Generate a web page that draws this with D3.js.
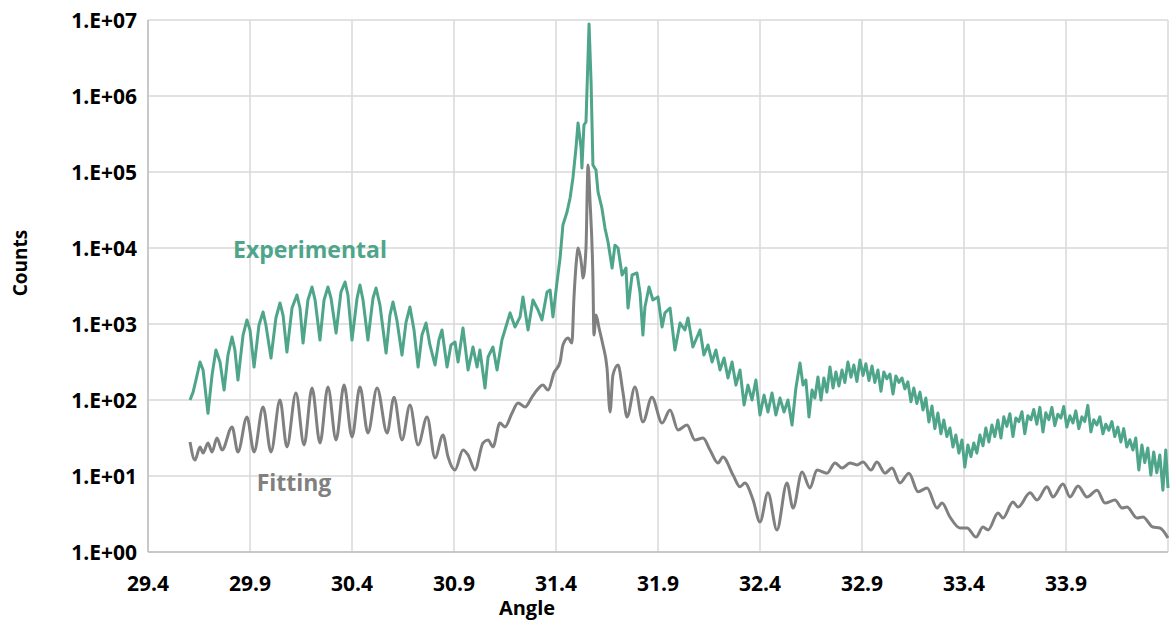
<!DOCTYPE html>
<html>
<head>
<meta charset="utf-8">
<script src="https://cdn.jsdelivr.net/npm/d3@7"></script>
<style>
body { margin: 0; background: white; }
</style>
</head>
<body>
<script>
const width = 1173
const height = 621
const margin = {top: 20, left: 148, bottom: 69, right: 5}

const xTicks = [29.4, 29.9, 30.4, 30.9, 31.4, 31.9, 32.4, 32.9, 33.4, 33.9]
const xGrid = [29.4, 29.9, 30.4, 30.9, 31.4, 31.9, 32.4, 32.9, 33.4, 33.9, 34.4]
const yTicks = [1, 10, 100, 1e3, 1e4, 1e5, 1e6, 1e7]
const yTickLabels = ["1.E+00", "1.E+01", "1.E+02", "1.E+03", "1.E+04", "1.E+05", "1.E+06", "1.E+07"]

// [angle, counts]
const experimental = [
    [29.606,100],[29.621,127],[29.635,183],[29.655,316],[29.670,248],[29.694,67],[29.714,213],[29.733,455],[29.753,316],[29.773,135],
    [29.792,391],[29.812,675],[29.826,455],[29.841,183],[29.866,716],[29.885,1130],[29.900,834],[29.920,272],[29.944,970],[29.964,1440],
    [29.978,970],[30.003,357],[30.027,1200],[30.047,1890],[30.062,1310],[30.081,428],[30.106,1625],[30.130,2410],[30.145,1625],[30.160,562],
    [30.184,2070],[30.204,3070],[30.219,2070],[30.243,615],[30.263,2070],[30.282,3070],[30.297,2200],[30.322,762],[30.346,2640],[30.366,3570],
    [30.380,2410],[30.400,615],[30.425,2200],[30.439,3260],[30.454,2070],[30.478,615],[30.503,2200],[30.518,2980],[30.537,1780],[30.567,415],
    [30.586,1310],[30.601,1950],[30.620,1130],[30.645,391],[30.665,1060],[30.684,1675],[30.704,834],[30.724,272],[30.743,716],[30.763,1030],
    [30.782,530],[30.807,289],[30.826,615],[30.841,834],[30.866,272],[30.885,530],[30.905,580],[30.920,316],[30.944,886],[30.969,248],
    [30.993,498],[31.013,272],[31.027,455],[31.052,144],[31.067,368],[31.091,498],[31.111,248],[31.135,615],[31.160,1030],[31.175,1400],
    [31.199,914],[31.224,1240],[31.238,2270],[31.263,834],[31.287,2070],[31.312,1530],[31.331,1130],[31.356,2640],[31.371,2800],[31.385,1240],
    [31.405,3570],[31.420,7380],[31.434,20100],[31.454,29800],[31.469,45500],[31.483,83400],[31.498,207000],[31.508,442000],[31.523,207000],[31.527,113000],
    [31.537,415000],[31.547,455000],[31.562,8850000],[31.572,1530000],[31.581,124000],[31.596,106000],[31.606,54600],[31.625,33600],[31.640,18300],[31.655,12000],
    [31.675,5460],[31.689,10900],[31.704,10000],[31.724,4420],[31.743,5460],[31.753,1625],[31.773,4420],[31.797,4690],[31.812,2560],[31.826,716],
    [31.836,1675],[31.856,3070],[31.875,2070],[31.900,2270],[31.920,914],[31.934,1400],[31.959,1625],[31.983,455],[32.008,1030],[32.032,834],
    [32.047,1200],[32.071,498],[32.106,834],[32.125,391],[32.145,530],[32.165,316],[32.184,455],[32.204,248],[32.224,357],[32.243,195],
    [32.263,316],[32.282,157],[32.302,248],[32.322,86],[32.341,157],[32.361,100],[32.380,183],[32.400,63.5],[32.420,116],[32.439,69.5],
    [32.459,124],[32.478,63.5],[32.498,106],[32.518,69.5],[32.537,100],[32.557,46.9],[32.576,144],
    [32.596,307],[32.611,157],[32.625,183],[32.640,59.8],[32.655,135],[32.669,106],[32.684,201],[32.699,100],[32.713,195],[32.728,127],
    [32.743,272],[32.758,144],[32.772,234],[32.787,153],[32.802,248],[32.816,170],[32.831,316],[32.846,200],[32.860,289],[32.875,175],
    [32.890,336],[32.905,210],[32.919,300],[32.934,180],[32.949,280],[32.963,170],[32.978,248],[32.993,130],[33.007,234],[33.022,190],
    [33.037,220],[33.052,120],[33.066,207],[33.081,170],[33.096,195],[33.110,140],[33.125,173],[33.140,95],[33.154,144],[33.169,90],
    [33.184,127],[33.199,73.9],[33.213,106],[33.228,51.4],[33.243,83.4],[33.257,42],[33.272,67.5],[33.287,36],[33.301,54.6],[33.316,33],
    [33.331,42.8],[33.346,24.1],[33.360,34.6],[33.375,20],[33.390,29.8],[33.404,13.1],[33.419,25.6],[33.434,18],[33.448,27.2],[33.463,20],
    [33.478,34.6],[33.493,25],[33.507,42.8],[33.522,28],[33.537,46.9],[33.551,33],[33.566,54.6],[33.581,31.6],[33.595,60],[33.610,45],
    [33.625,66],[33.640,33],[33.654,58],[33.669,52],[33.684,70],[33.698,36],[33.713,62],[33.728,55],[33.742,75],[33.757,48],
    [33.772,80],[33.787,38],[33.801,68],[33.816,55],[33.831,80],[33.845,46],[33.860,65],[33.875,58],[33.889,82],[33.904,44],
    [33.919,62],[33.934,50],[33.948,72],[33.963,42],[33.978,60],[33.992,52],[34.007,85],[34.022,38],[34.036,55],[34.051,47],
    [34.066,60],[34.081,36],[34.095,48],[34.110,40],[34.125,52],[34.139,33],[34.154,44],[34.169,28],[34.183,42],[34.198,24],
    [34.213,30],[34.228,22],[34.242,31.6],[34.257,12],[34.272,25.6],[34.286,15],[34.301,23.4],[34.316,10.3],[34.330,20.7],[34.345,11],
    [34.360,18.9],[34.375,6.5],[34.389,22],[34.400,6.95]
]

const fitting = [
    [29.606,28],[29.630,16.2],[29.655,24.1],[29.670,20.1],[29.694,27.2],[29.714,20.7],[29.738,31.6],[29.763,22],[29.812,44.2],[29.841,20.7],
    [29.885,59.8],[29.920,20.7],[29.964,80.9],[30.003,20.7],[30.047,100],[30.081,24.1],[30.125,124],[30.165,25.6],[30.204,144],[30.243,27.2],
    [30.282,148],[30.322,29.8],[30.361,157],[30.400,32.6],[30.439,148],[30.478,36.8],[30.523,144],[30.572,36.8],[30.606,109],[30.645,29.8],
    [30.684,86],[30.724,25.6],[30.768,59.8],[30.807,17.3],[30.846,34.6],[30.871,17.8],[30.905,12],[30.944,22],[30.969,18.9],[31.003,12],
    [31.042,27.2],[31.067,29.8],[31.091,24.1],[31.125,49.8],[31.150,44.2],[31.184,67],[31.214,91.4],[31.248,80.9],[31.282,109],[31.307,135],
    [31.336,157],[31.361,135],[31.390,227],[31.420,316],[31.434,530],[31.459,655],[31.478,562],[31.488,2200],[31.503,8090],[31.508,10000],
    [31.527,5460],[31.532,4030],[31.547,10000],[31.557,124000],[31.567,40300],[31.581,4030],[31.586,716],[31.596,1310],[31.611,886],[31.630,530],
    [31.650,264],[31.665,69.5],[31.679,213],[31.704,289],[31.728,127],[31.748,59.8],[31.787,148],[31.826,51.4],[31.870,109],[31.920,49.8],
    [31.959,73.9],[31.998,40.3],[32.042,46.9],[32.081,29.8],[32.121,31.6],[32.155,22],[32.194,14.8],[32.218,17.8],[32.268,10.3],[32.302,7.2],
    [32.326,8.1],[32.366,4.83],[32.400,2.48],[32.439,6],[32.483,1.95],[32.532,8.1],[32.562,3.79],[32.606,11.3],[32.645,6.95],[32.679,12],
    [32.728,10.9],[32.768,14.8],[32.802,12.7],[32.841,14.8],[32.875,14],[32.905,15.3],[32.944,12],[32.973,15.3],[33.013,10.9],[33.047,12.7],
    [33.086,8.1],[33.130,10.9],[33.175,6.2],[33.219,6.95],[33.268,3.79],[33.292,4.41],[33.331,2.89],[33.380,2.07],[33.415,2.07],[33.459,1.57],
    [33.493,2.13],[33.518,1.95],[33.567,3.26],[33.591,2.8],[33.640,4.55],[33.665,3.91],[33.724,6],[33.758,4.83],[33.807,7.2],[33.836,5.3],
    [33.885,7.85],[33.920,5.3],[33.959,7.4],[34.003,5.3],[34.052,6.5],[34.091,4.41],[34.140,4.83],[34.175,3.79],[34.199,3.91],[34.248,2.8],
    [34.277,2.89],[34.326,2.13],[34.360,2.07],[34.400,1.53]
]

const expColor = "#4ea58a"
const fitColor = "#808080"

const svg = d3.select("body").append("svg")
    .attr("width", width)
    .attr("height", height)
    .style("font-family", "'Open Sans', sans-serif")

const x = d3.scaleLinear()
    .domain([29.4, 34.4])
    .range([margin.left, width - margin.right])
const y = d3.scaleLog()
    .domain([1, 1e7])
    .range([height - margin.bottom, margin.top])

// gridlines
svg.selectAll(".vgrid")
    .data(xGrid)
    .enter()
    .append("line")
    .attr("class", "vgrid")
    .attr("x1", d => x(d))
    .attr("x2", d => x(d))
    .attr("y1", y(1e7))
    .attr("y2", y(1))
    .attr("stroke", "#d9d9d9")
    .attr("stroke-width", 1.5)
svg.selectAll(".hgrid")
    .data(yTicks)
    .enter()
    .append("line")
    .attr("class", "hgrid")
    .attr("x1", x(29.4))
    .attr("x2", x(34.4))
    .attr("y1", d => y(d))
    .attr("y2", d => y(d))
    .attr("stroke", "#d9d9d9")
    .attr("stroke-width", 1.5)

// axis lines
svg.append("line")
    .attr("x1", x(29.4)).attr("x2", x(34.4))
    .attr("y1", y(1)).attr("y2", y(1))
    .attr("stroke", "#bfbfbf").attr("stroke-width", 1.5)
svg.append("line")
    .attr("x1", x(29.4)).attr("x2", x(29.4))
    .attr("y1", y(1)).attr("y2", y(1e7))
    .attr("stroke", "#bfbfbf").attr("stroke-width", 1.5)

// tick labels
svg.selectAll(".ylab")
    .data(yTicks)
    .enter()
    .append("text")
    .attr("class", "ylab")
    .attr("x", x(29.4) - 11)
    .attr("y", d => y(d))
    .attr("text-anchor", "end")
    .attr("dominant-baseline", "central")
    .attr("font-size", 21)
    .attr("font-weight", "bold")
    .attr("fill", "#000")
    .text((d, i) => yTickLabels[i])
svg.selectAll(".xlab")
    .data(xTicks)
    .enter()
    .append("text")
    .attr("class", "xlab")
    .attr("x", d => x(d))
    .attr("y", y(1) + 31)
    .attr("text-anchor", "middle")
    .attr("dominant-baseline", "central")
    .attr("font-size", 21)
    .attr("font-weight", "bold")
    .attr("fill", "#000")
    .text(d => d3.format(".1f")(d))

// axis titles
svg.append("text")
    .attr("x", 527)
    .attr("y", 607)
    .attr("text-anchor", "middle")
    .attr("dominant-baseline", "central")
    .attr("font-size", 20)
    .attr("font-weight", "bold")
    .text("Angle")
svg.append("text")
    .attr("transform", "translate(20, 263) rotate(-90)")
    .attr("text-anchor", "middle")
    .attr("dominant-baseline", "central")
    .attr("font-size", 19)
    .attr("font-weight", "bold")
    .text("Counts")

const line = d3.line()
    .x(d => x(d[0]))
    .y(d => y(d[1]))

svg.append("path")
    .datum(fitting)
    .attr("fill", "none")
    .attr("stroke", fitColor)
    .attr("stroke-width", 3)
    .attr("stroke-linejoin", "round")
    .attr("d", line.curve(d3.curveMonotoneX))

svg.append("path")
    .datum(experimental)
    .attr("fill", "none")
    .attr("stroke", expColor)
    .attr("stroke-width", 3)
    .attr("stroke-linejoin", "round")
    .attr("d", line.curve(d3.curveLinear))

// series labels
svg.append("text")
    .attr("x", 310)
    .attr("y", 249)
    .attr("text-anchor", "middle")
    .attr("dominant-baseline", "central")
    .attr("font-size", 23)
    .attr("font-weight", "bold")
    .attr("fill", expColor)
    .text("Experimental")
svg.append("text")
    .attr("x", 294)
    .attr("y", 482)
    .attr("text-anchor", "middle")
    .attr("dominant-baseline", "central")
    .attr("font-size", 23)
    .attr("font-weight", "bold")
    .attr("fill", fitColor)
    .text("Fitting")
</script>
</body>
</html>
